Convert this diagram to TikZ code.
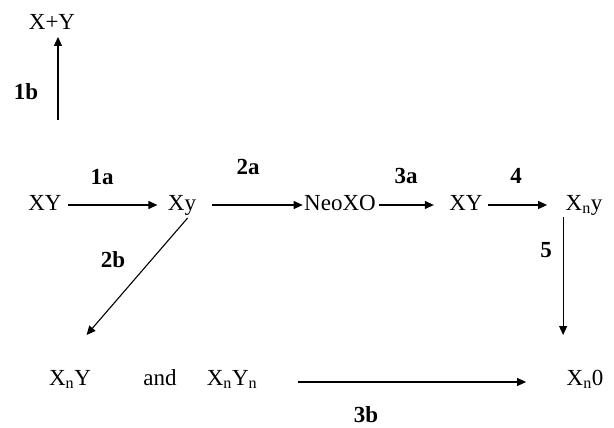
\documentclass[tikz,border=0pt]{standalone}
\usepackage{fontspec}
\setmainfont{Liberation Serif}
\usetikzlibrary{arrows.meta}

\begin{document}
\begin{tikzpicture}[x=1pt,y=-1pt,>={Triangle[length=9pt,width=8pt]},line width=1.1pt,
  font=\fontsize{23}{27}\selectfont,
  every node/.style={inner sep=0pt,anchor=base},
  steplabel/.style={font=\fontsize{23}{27}\selectfont\bfseries}]
\useasboundingbox (0,0) rectangle (614,428);
% species
\node (xpy)  at (52,30)   {X+Y};
\node (xy1)  at (45,210)  {XY};
\node (xsy)  at (182,210) {Xy};
\node (neo)  at (340,210) {NeoXO};
\node (xy2)  at (466,210) {XY};
\node (xny)  at (584,210) {X\textsubscript{n}y};
\node (xnY)  at (70,385)  {X\textsubscript{n}Y};
\node (and)  at (160,385) {and};
\node (xnyn) at (232,385) {X\textsubscript{n}Y\textsubscript{n}};
\node (xn0)  at (585,385) {X\textsubscript{n}0};
% step numbers
\node[steplabel] (l1b) at (26,100)  {1b};
\node[steplabel] (l1a) at (102,185) {1a};
\node[steplabel] (l2a) at (248,175) {2a};
\node[steplabel] (l3a) at (406,183) {3a};
\node[steplabel] (l4)  at (516,183) {4};
\node[steplabel] (l5)  at (546,257) {5};
\node[steplabel] (l2b) at (113,267) {2b};
\node[steplabel] (l3b) at (366,422) {3b};
% arrows
\draw[->] ([shift={(6,90)}]xpy.base) -- ([shift={(6,7)}]xpy.base);
\draw[->] ([shift={(6,-5)}]xy1.base east) -- ([shift={(-10,-5)}]xsy.base west);
\draw[->] ([shift={(15,-5)}]xsy.base east) -- ([shift={(-1,-5)}]neo.base west);
\draw[->] ([shift={(3,-5)}]neo.base east) -- ([shift={(-15,-5)}]xy2.base west);
\draw[->] ([shift={(5,-5)}]xy2.base east) -- ([shift={(-18,-5)}]xny.base west);
\draw[->] ([shift={(-2,7)}]xny.base west) -- +(0,118);
\draw[->] ([shift={(-9,8)}]xsy.base east) -- ([shift={(38,-50)}]xnY.base west);
\draw[->] ([shift={(40,-3)}]xnyn.base east) -- ([shift={(-40,-3)}]xn0.base west);
\end{tikzpicture}
\end{document}
